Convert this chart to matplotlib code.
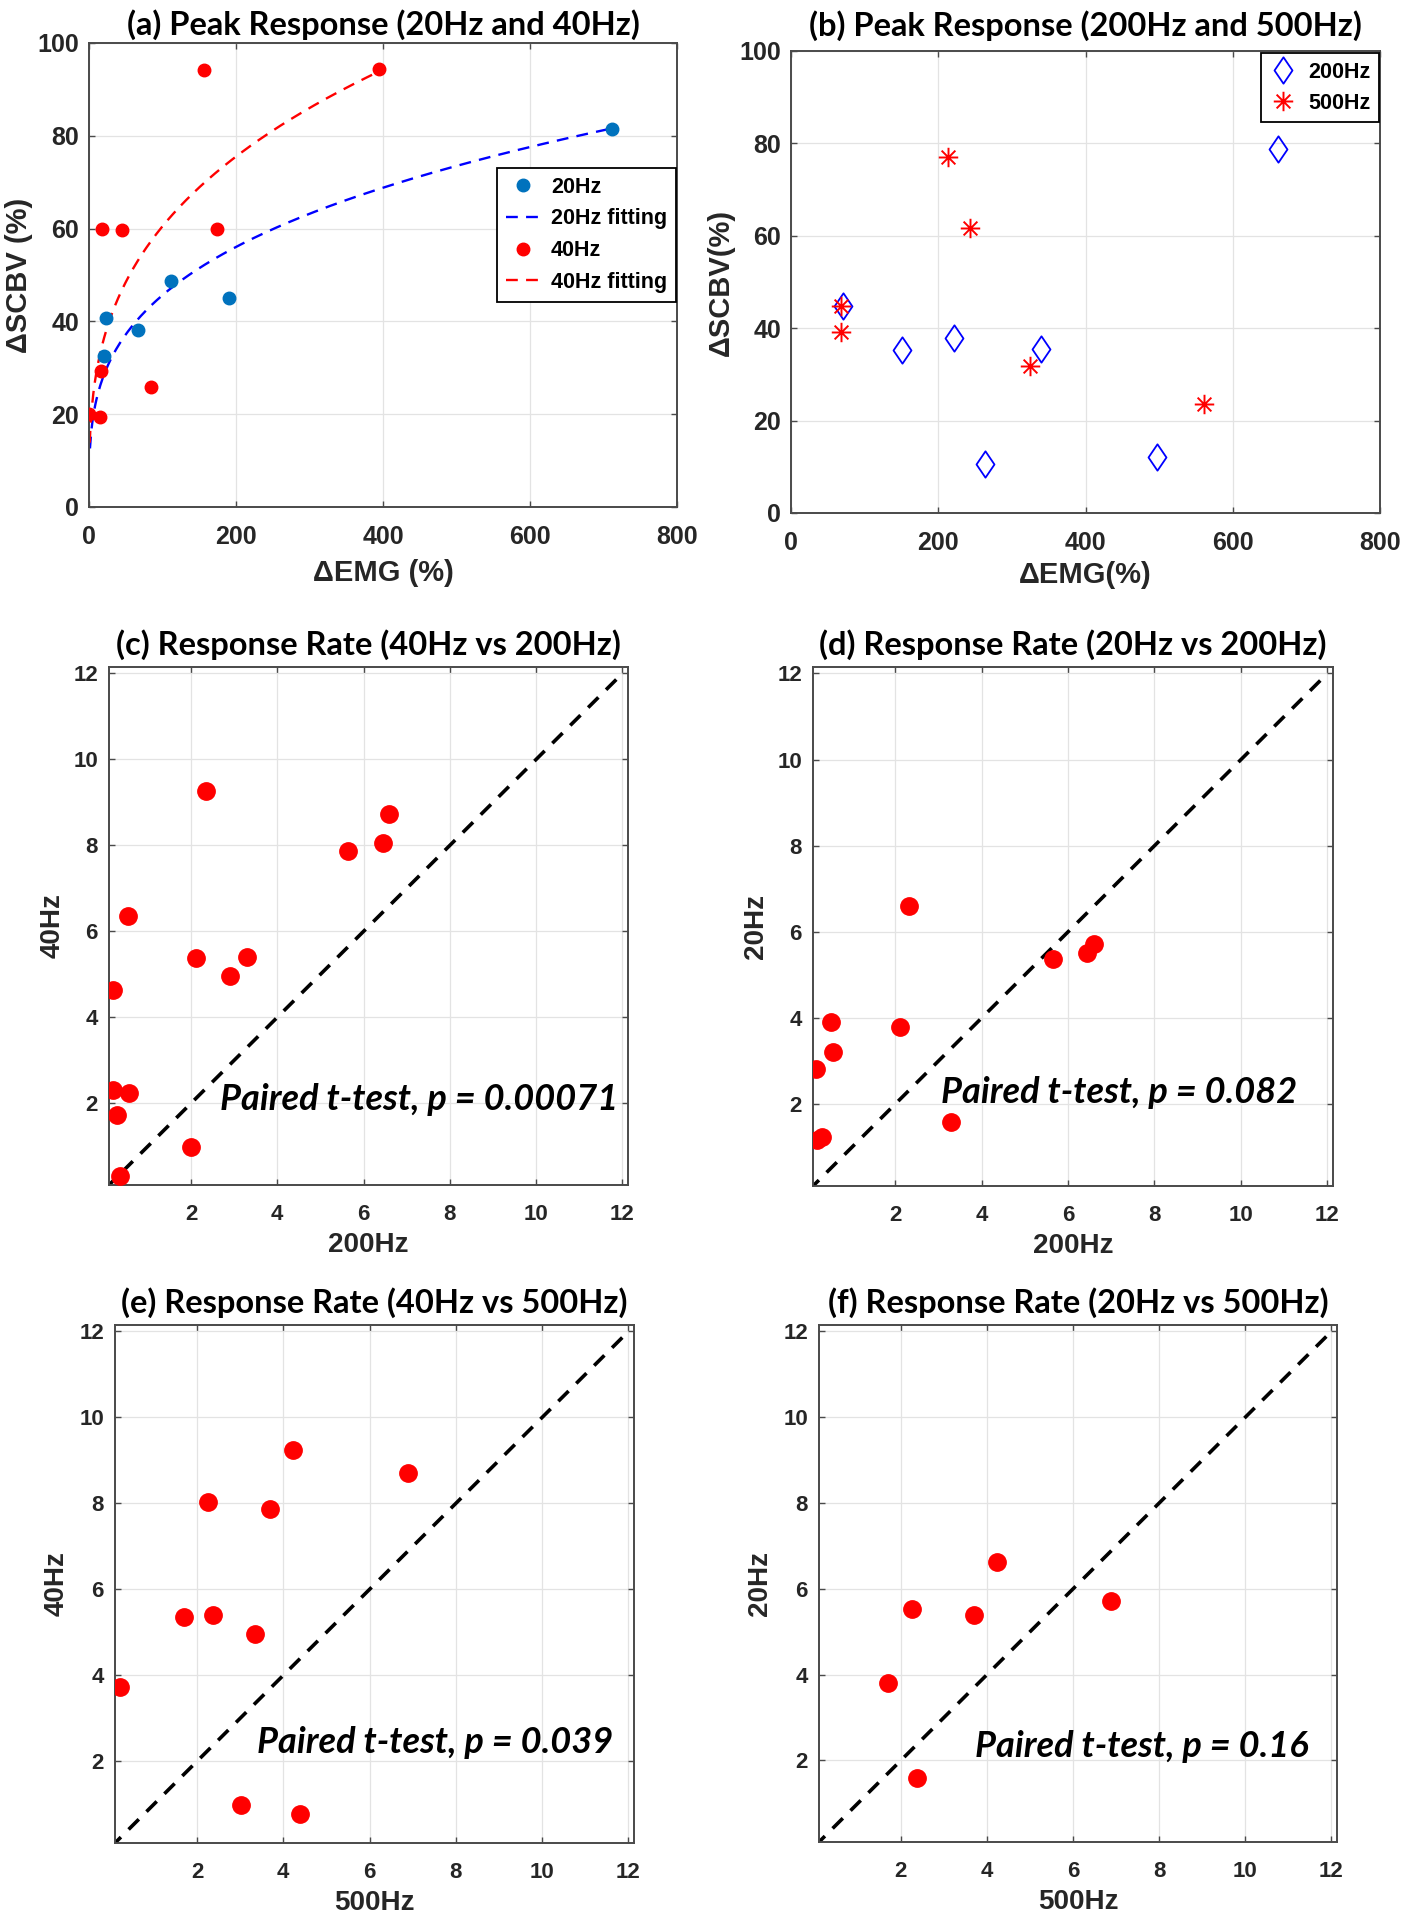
import numpy as np
import matplotlib
matplotlib.use('Agg')
import matplotlib.pyplot as plt
from matplotlib.path import Path

# ---------------- data ----------------
# (a) Peak response 20Hz / 40Hz
emg_20 = [22.6, 20, 67, 111, 190, 711]
scbv_20 = [40.7, 32.5, 38.2, 48.8, 45.1, 81.4]
emg_40 = [0, 15, 16.5, 18, 44.6, 84, 157, 174, 394.5]
scbv_40 = [20, 19.4, 29.4, 60, 59.6, 25.8, 94.1, 60, 94.4]
# power-law fits  y = a * x^b  (coefficients)
fit20_a, fit20_b, fit20_x0, fit20_x1 = 11.68, 0.296, 1.3, 711
fit40_a, fit40_b, fit40_x0, fit40_x1 = 13.86, 0.32, 1.0, 394.5

# (b) Peak response 200Hz / 500Hz
emg_200 = [70, 151, 221, 340, 263, 497, 661]
scbv_200 = [44.9, 35.3, 37.9, 35.4, 10.7, 12.2, 78.8]
emg_500 = [68, 68, 213, 243, 324, 561]
scbv_500 = [44.9, 39.1, 77.1, 61.7, 31.9, 23.7]

# (c) 40Hz vs 200Hz
c_x200 = [2.34, 6.59, 6.44, 5.65, 0.53, 2.11, 3.29, 2.91, 0.19, 0.19, 0.57, 0.28, 2.00, 0.35]
c_y40 = [9.27, 8.72, 8.05, 7.87, 6.36, 5.37, 5.41, 4.96, 4.63, 2.31, 2.25, 1.74, 0.99, 0.31]
# (d) 20Hz vs 200Hz
d_x200 = [2.33, 6.59, 6.43, 5.65, 0.52, 2.11, 0.56, 0.18, 3.30, 0.20, 0.30]
d_y20 = [6.61, 5.71, 5.50, 5.36, 3.90, 3.80, 3.20, 2.81, 1.58, 1.17, 1.24]
# (e) 40Hz vs 500Hz
e_x500 = [4.23, 6.88, 2.26, 3.69, 1.70, 2.38, 3.34, 0.22, 3.01, 4.38]
e_y40 = [9.25, 8.71, 8.04, 7.86, 5.36, 5.41, 4.96, 3.72, 0.98, 0.78]
# (f) 20Hz vs 500Hz
f_x500 = [4.24, 6.89, 2.25, 3.69, 1.70, 2.37]
f_y20 = [6.63, 5.72, 5.52, 5.38, 3.81, 1.59]

p_values = ["0.00071", "0.082", "0.039", "0.16"]

# ---------------- style ----------------
W, H = 1406, 1920
fig = plt.figure(figsize=(W / 100, H / 100), dpi=100)

TICK_FONT = 'Liberation Sans'
TITLE_FONT = 'Lato'
DARK = '#262626'
EDGE = '#4a4a4a'
GRID = '#e3e3e3'
BLUE_DOT = '#0072BD'
TITLE_SIZE = 23.5
LABEL_SIZE = 21


def box(x0, y0, x1, y1):
    return [x0 / W, 1 - y1 / H, (x1 - x0) / W, (y1 - y0) / H]


def style_axes(ax, tick_size):
    ax.grid(True, color=GRID, linewidth=0.9)
    ax.set_axisbelow(True)
    for s in ax.spines.values():
        s.set_color(EDGE)
        s.set_linewidth(1.4)
    ax.tick_params(direction='in', length=4, width=1, colors=EDGE,
                   top=True, right=True, labelcolor=DARK, labelsize=tick_size)
    for lab in ax.get_xticklabels() + ax.get_yticklabels():
        lab.set_fontfamily(TICK_FONT)
        lab.set_fontweight('bold')


def set_labels(ax, xl, yl, xoff_px, yoff_px, wpx, hpx, size):
    ax.set_xlabel(xl, fontsize=size, fontweight='bold', fontfamily=TICK_FONT,
                  color=DARK, va='center')
    ax.set_ylabel(yl, fontsize=size, fontweight='bold', fontfamily=TICK_FONT,
                  color=DARK, va='center')
    ax.xaxis.set_label_coords(0.5, -xoff_px / hpx)
    ax.yaxis.set_label_coords(-yoff_px / wpx, 0.5)


# asterisk marker (MATLAB style) and slim diamond
r = 0.7071
ast = Path([(-1, 0), (1, 0), (0, -1), (0, 1), (-r, -r), (r, r), (-r, r), (r, -r)],
           [Path.MOVETO, Path.LINETO] * 4)
dia = Path([(0, 1), (0.68, 0), (0, -1), (-0.68, 0), (0, 1)],
           [Path.MOVETO, Path.LINETO, Path.LINETO, Path.LINETO, Path.CLOSEPOLY])

# ---------------- (a) ----------------
ba = (89, 43, 677, 507)
ax = fig.add_axes(box(*ba))
xf20 = np.linspace(fit20_x0, fit20_x1, 400)
xf40 = np.linspace(fit40_x0, fit40_x1, 400)
ax.plot(emg_20, scbv_20, 'o', color=BLUE_DOT, ms=9, label='20Hz', zorder=3)
ax.plot(xf20, fit20_a * xf20 ** fit20_b, color='#0000FF', lw=1.7,
        ls=(0, (5, 3.5)), label='20Hz fitting', zorder=2)
ax.plot(emg_40, scbv_40, 'o', color='#FF0000', ms=9, label='40Hz', zorder=3)
ax.plot(xf40, fit40_a * xf40 ** fit40_b, color='#FF0000', lw=1.7,
        ls=(0, (5, 3.5)), label='40Hz fitting', zorder=2)
ax.set_xlim(0, 800)
ax.set_ylim(0, 100)
ax.set_xticks([0, 200, 400, 600, 800])
ax.set_yticks([0, 20, 40, 60, 80, 100])
style_axes(ax, 18)
ax.tick_params(axis='x', pad=13)
ax.tick_params(axis='y', pad=7)
set_labels(ax, 'ΔEMG (%)', 'ΔSCBV (%)', 66, 70, ba[2] - ba[0], ba[3] - ba[1], LABEL_SIZE)
ax.set_title('(a) Peak Response (20Hz and 40Hz)', fontsize=TITLE_SIZE, fontweight='bold',
             fontfamily=TITLE_FONT, pad=6, color='black')
leg = ax.legend(loc='upper right', bbox_to_anchor=(0.998, (507 - 168) / 464),
                borderaxespad=0, fancybox=False, edgecolor='black',
                prop={'family': TICK_FONT, 'weight': 'bold', 'size': 15.5},
                handlelength=1.6, handletextpad=0.5, labelspacing=0.5,
                borderpad=0.4, framealpha=1)
leg.get_frame().set_linewidth(1.3)

# ---------------- (b) ----------------
bb = (791, 51, 1380, 513)
ax = fig.add_axes(box(*bb))
ax.plot(emg_200, scbv_200, ls='none', marker=dia, ms=19, mfc='none', mec='#0000FF',
        mew=1.3, label='200Hz', zorder=3)
ax.plot(emg_500, scbv_500, ls='none', marker=ast, ms=14, mfc='none', mec='#FF0000',
        mew=1.4, label='500Hz', zorder=3)
ax.set_xlim(0, 800)
ax.set_ylim(0, 100)
ax.set_xticks([0, 200, 400, 600, 800])
ax.set_yticks([0, 20, 40, 60, 80, 100])
style_axes(ax, 18)
ax.tick_params(axis='x', pad=13)
ax.tick_params(axis='y', pad=7)
set_labels(ax, 'ΔEMG(%)', 'ΔSCBV(%)', 62, 70, bb[2] - bb[0], bb[3] - bb[1], LABEL_SIZE)
ax.set_title('(b) Peak Response (200Hz and 500Hz)', fontsize=TITLE_SIZE, fontweight='bold',
             fontfamily=TITLE_FONT, pad=11, color='black')
leg = ax.legend(loc='upper right', bbox_to_anchor=(0.998, 0.995),
                borderaxespad=0, fancybox=False, edgecolor='black',
                prop={'family': TICK_FONT, 'weight': 'bold', 'size': 15.5},
                handlelength=1.3, handletextpad=0.5, labelspacing=0.45,
                borderpad=0.4, framealpha=1)
leg.get_frame().set_linewidth(1.3)

# ---------------- (c)-(f) ----------------
panels = [
    ((109, 667, 628, 1185), c_x200, c_y40, '200Hz', '40Hz',
     '(c) Response Rate (40Hz vs 200Hz)', p_values[0], (11.9, 2.1), 56, 60),
    ((813, 667, 1333, 1186), d_x200, d_y20, '200Hz', '20Hz',
     '(d) Response Rate (20Hz vs 200Hz)', p_values[1], (11.3, 2.26), 57, 60),
    ((115, 1325, 634, 1843), e_x500, e_y40, '500Hz', '40Hz',
     '(e) Response Rate (40Hz vs 500Hz)', p_values[2], (11.66, 2.43), 58, 60),
    ((819, 1325, 1337, 1842), f_x500, f_y20, '500Hz', '20Hz',
     '(f) Response Rate (20Hz vs 500Hz)', p_values[3], (11.47, 2.32), 59, 60),
]
diag = [0, 12]
for bx, xs, ys, xl, yl, title, p, tpos, yoff, xoff in panels:
    ax = fig.add_axes(box(*bx))
    ax.plot(diag, diag, color='black', lw=2.6, ls=(0, (4, 3)), zorder=2)
    ax.plot(xs, ys, 'o', color='#FF0000', ms=12.5, zorder=3)
    ax.set_xlim(0.1, 12.13)
    ax.set_ylim(0.1, 12.15)
    ax.set_xticks([2, 4, 6, 8, 10, 12])
    ax.set_yticks([2, 4, 6, 8, 10, 12])
    style_axes(ax, 16)
    ax.tick_params(axis='x', pad=14)
    ax.tick_params(axis='y', pad=8)
    set_labels(ax, xl, yl, xoff, yoff, bx[2] - bx[0], bx[3] - bx[1], 20)
    ax.set_title(title, fontsize=TITLE_SIZE, fontweight='bold', fontfamily=TITLE_FONT,
                 pad=9, color='black')
    ax.text(tpos[0], tpos[1], 'Paired t-test, p = ' + p, ha='right', va='center',
            fontsize=26, fontweight='bold', fontstyle='italic', fontfamily=TITLE_FONT,
            color='black', zorder=4)

fig.savefig('out.png', dpi=100)
